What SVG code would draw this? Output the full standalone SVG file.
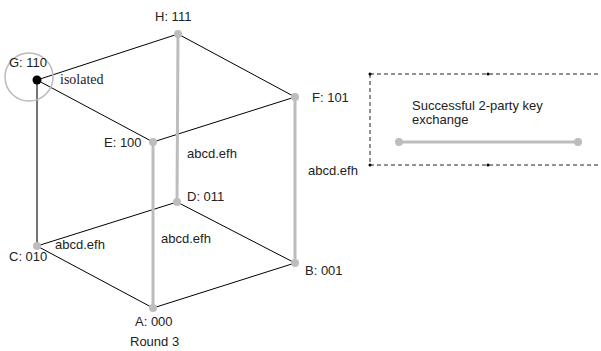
<svg xmlns="http://www.w3.org/2000/svg" width="601" height="351" viewBox="0 0 601 351">
  <style>
    .lbl { font-family: "Liberation Sans", Arial, sans-serif; font-size: 13px; fill: #222; }
    .ser { font-family: "Liberation Serif", "Times New Roman", serif; font-size: 14px; fill: #222; }
    .thin { stroke: #000; stroke-width: 1; fill: none; }
    .link { stroke: #bdbdbd; stroke-width: 3; fill: none; }
    .dark { stroke: #444; stroke-width: 1.5; fill: none; }
    .node { fill: #bdbdbd; }
  </style>
  <rect width="601" height="351" fill="#fff"/>

  <!-- cube edges -->
  <g id="edges">
    <line class="thin" x1="37" y1="80" x2="178" y2="34"/>
    <line class="thin" x1="37" y1="80" x2="153" y2="142"/>
    <line class="dark" x1="37" y1="80" x2="37" y2="246"/>
    <line class="thin" x1="178" y1="34" x2="295" y2="97"/>
    <line class="thin" x1="295" y1="97" x2="153" y2="142"/>
    <line class="thin" x1="37" y1="246" x2="177" y2="202"/>
    <line class="thin" x1="37" y1="246" x2="153" y2="308"/>
    <line class="thin" x1="177" y1="202" x2="295" y2="263"/>
    <line class="thin" x1="153" y1="308" x2="295" y2="263"/>
    <line class="link" x1="178" y1="34" x2="177" y2="202"/>
    <line class="link" x1="295" y1="97" x2="295" y2="263"/>
    <line class="link" x1="153" y1="142" x2="153" y2="308"/>
    <text class="lbl" x="187" y="158">abcd.efh</text>
    <text class="lbl" x="308" y="175">abcd.efh</text>
    <text class="lbl" x="161" y="243">abcd.efh</text>
    <text class="lbl" x="55" y="249">abcd.efh</text>
  </g>

  <g id="H">
    <circle class="node" cx="178" cy="34" r="4"/>
    <text class="lbl" x="155" y="21">H: 111</text>
  </g>
  <g id="G">
    <circle cx="29" cy="77" r="24" fill="none" stroke="#bbb" stroke-width="1.5"/>
    <circle cx="37" cy="80" r="4.5" fill="#000"/>
    <text class="lbl" x="9" y="67">G: 110</text>
    <text class="ser" x="60" y="84">isolated</text>
  </g>
  <g id="F">
    <circle class="node" cx="295" cy="97" r="4"/>
    <text class="lbl" x="312" y="102">F: 101</text>
  </g>
  <g id="E">
    <circle class="node" cx="153" cy="142" r="4"/>
    <text class="lbl" x="104" y="147">E: 100</text>
  </g>
  <g id="D">
    <circle class="node" cx="177" cy="202" r="4"/>
    <text class="lbl" x="187" y="201">D: 011</text>
  </g>
  <g id="C">
    <circle class="node" cx="37" cy="246" r="4"/>
    <text class="lbl" x="9" y="261">C: 010</text>
  </g>
  <g id="B">
    <circle class="node" cx="295" cy="263" r="4"/>
    <text class="lbl" x="305" y="275">B: 001</text>
  </g>
  <g id="A">
    <circle class="node" cx="153" cy="308" r="4"/>
    <text class="lbl" x="135" y="326">A: 000</text>
  </g>
  <text class="lbl" x="130" y="346">Round 3</text>

  <!-- legend -->
  <g id="legend">
    <path d="M370 74 H601 M370 74 V165 H601" fill="none" stroke="#222" stroke-width="1" stroke-dasharray="4,3"/>
    <circle cx="370" cy="74" r="1.5" fill="#000"/>
    <circle cx="370" cy="165" r="1.5" fill="#000"/>
    <circle cx="488" cy="74" r="1.5" fill="#000"/>
    <circle cx="488" cy="165" r="1.5" fill="#000"/>
    <text class="lbl" x="412" y="110">Successful 2-party key</text>
    <text class="lbl" x="412" y="124">exchange</text>
    <line class="link" x1="399" y1="142" x2="578" y2="142"/>
    <circle class="node" cx="399" cy="142" r="4"/>
    <circle class="node" cx="578" cy="142" r="4"/>
  </g>
</svg>
